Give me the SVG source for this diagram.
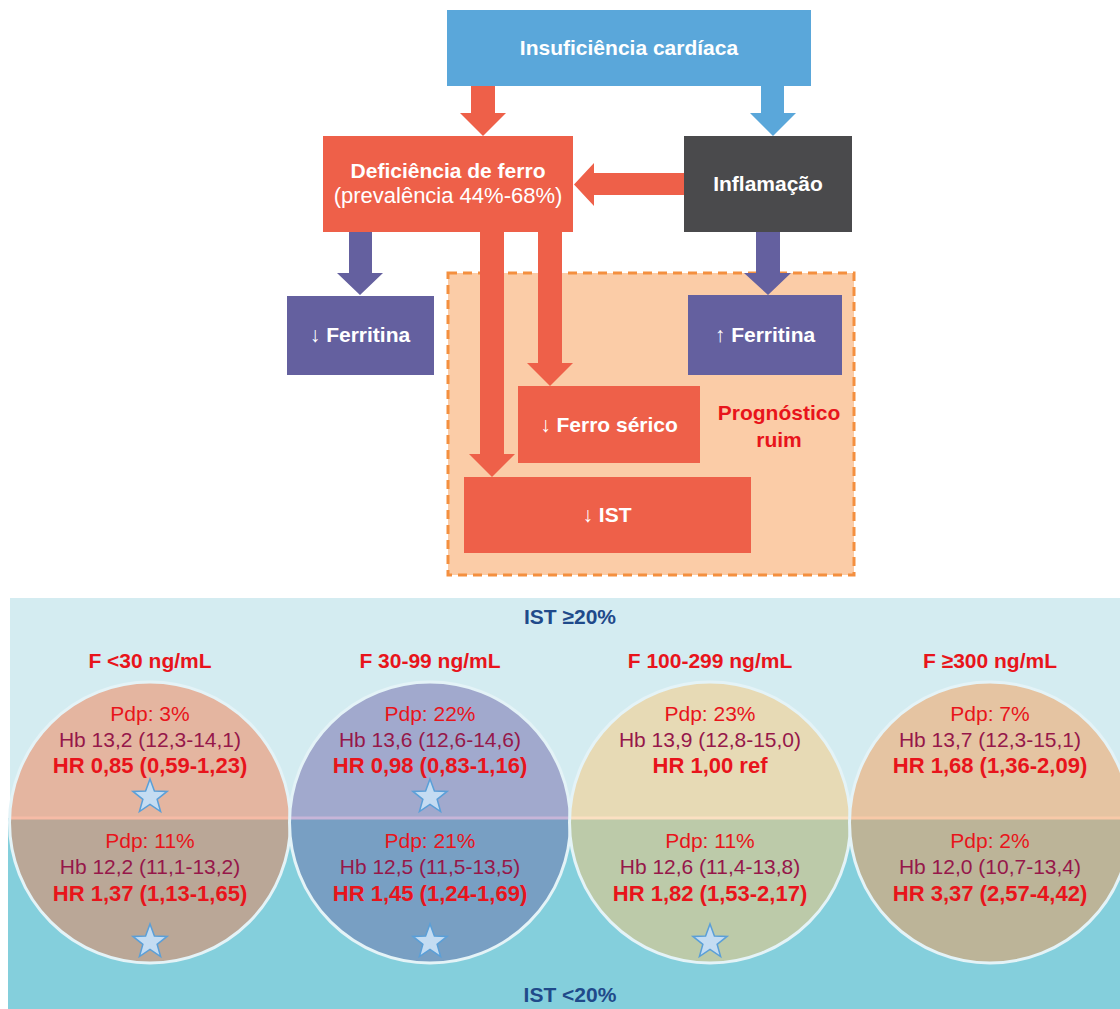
<svg xmlns="http://www.w3.org/2000/svg" width="1120" height="1009" viewBox="0 0 1120 1009">
<style>
text{font-family:"Liberation Sans",Arial,sans-serif;text-anchor:middle}
.wb{fill:#fff;font-weight:bold;font-size:21px}
.wr{fill:#fff;font-size:22px}
.red{fill:#ee6049}
.blue{fill:#5aa7da}
.pur{fill:#64609f}
.dark{fill:#4a4a4c}
.rb{fill:#e8141b;font-weight:bold;font-size:21px}
.hr{fill:#e8141b;font-weight:bold;font-size:22px}
.rr{fill:#e8141b;font-size:21px}
.hb{fill:#96174a;font-size:21px}
.nav{fill:#1f4a8a;font-weight:bold;font-size:21px}
.ring{fill:none;stroke:#e4f3f7;stroke-width:3}
.star{fill:#c4dcf2;stroke:#5a9fd8;stroke-width:1.5}
</style>
<defs>
<polygon id="st" points="0,-18 4.41,-6.07 17.12,-5.56 7.13,2.32 10.58,14.56 0,7.5 -10.58,14.56 -7.13,2.32 -17.12,-5.56 -4.41,-6.07"/>
</defs>

<!-- background bands -->
<rect x="10" y="598" width="1110" height="220" fill="#d4ecf1"/>
<rect x="8" y="818" width="1112" height="191" fill="#84cfdc"/>

<!-- prognóstico region -->
<g id="prognostico">
<rect x="448" y="273" width="406" height="302" fill="#fbcca7" stroke="#f48f3f" stroke-width="3" stroke-dasharray="9,6"/>
<text class="rb" x="779" y="420">Prognóstico</text>
<text class="rb" x="779" y="447">ruim</text>
</g>

<g id="connectors">
<path class="red" d="M471,86H495V113H506L483,136L460,113H471Z"/>
<path class="blue" d="M761,86H784V113H796L773,136L750,113H761Z"/>
<path class="red" d="M684,173V195H594V206L574,184.5L594,163V173Z"/>
<path class="pur" d="M349,232H372V273H383L360,295L337,273H349Z"/>
<path class="pur" d="M756,232H780V273H791L768,295L744,273H756Z"/>
<path class="red" d="M480,232H504V454H515L492,477L469,454H480Z"/>
<path class="red" d="M538,232H562V363H573L550,386L527,363H538Z"/>
</g>

<g id="insuficiencia">
<rect class="blue" x="447" y="10" width="364" height="76"/>
<text class="wb" x="629" y="55" font-size="20">Insuficiência cardíaca</text>
</g>
<g id="deficiencia">
<rect class="red" x="323" y="136" width="250" height="96"/>
<text class="wb" x="448" y="178">Deficiência de ferro</text>
<text class="wr" x="448" y="203">(prevalência 44%-68%)</text>
</g>
<g id="inflamacao">
<rect class="dark" x="684" y="136" width="168" height="96"/>
<text class="wb" x="768" y="191">Inflamação</text>
</g>
<g id="ferritina-baixa">
<rect class="pur" x="287" y="296" width="147" height="79"/>
<text class="wb" x="360" y="342"><tspan font-weight="normal">↓</tspan> Ferritina</text>
</g>
<g id="ferritina-alta">
<rect class="pur" x="688" y="295" width="154" height="80"/>
<text class="wb" x="765" y="342"><tspan font-weight="normal">↑</tspan> Ferritina</text>
</g>
<g id="ferro-serico">
<rect class="red" x="518" y="386" width="182" height="77"/>
<text class="wb" x="609" y="432"><tspan font-weight="normal">↓</tspan> Ferro sérico</text>
</g>
<g id="ist">
<rect class="red" x="464" y="477" width="287" height="76"/>
<text class="wb" x="607" y="522"><tspan font-weight="normal">↓</tspan> IST</text>
</g>

<text class="nav" x="570" y="624">IST ≥20%</text>
<text class="nav" x="570" y="1002">IST &lt;20%</text>

<g id="c1">
<text class="rb" x="150" y="668">F &lt;30 ng/mL</text>
<circle cx="150" cy="822.5" r="140.5" fill="#e4b5a0"/>
<path d="M9.6,818A140.5,140.5 0 1 0 290.4,818Z" fill="#baa797"/>
<line x1="10" y1="818" x2="290" y2="818" stroke="#f6bba6" stroke-width="3"/>
<circle class="ring" cx="150" cy="822.5" r="140.5"/>
<text class="rr" x="150" y="721">Pdp: 3%</text>
<text class="hb" x="150" y="747">Hb 13,2 (12,3-14,1)</text>
<text class="hr" x="150" y="773">HR 0,85 (0,59-1,23)</text>
<use href="#st" class="star" x="150" y="797"/>
<text class="rr" x="150" y="848">Pdp: 11%</text>
<text class="hb" x="150" y="874">Hb 12,2 (11,1-13,2)</text>
<text class="hr" x="150" y="901">HR 1,37 (1,13-1,65)</text>
<use href="#st" class="star" x="150" y="942"/>
</g>
<g id="c2">
<text class="rb" x="430" y="668">F 30-99 ng/mL</text>
<circle cx="430" cy="822.5" r="140.5" fill="#a1a9cd"/>
<path d="M289.6,818A140.5,140.5 0 1 0 570.4,818Z" fill="#789fc3"/>
<line x1="290" y1="818" x2="570" y2="818" stroke="#c7b5d8" stroke-width="3"/>
<circle class="ring" cx="430" cy="822.5" r="140.5"/>
<text class="rr" x="430" y="721">Pdp: 22%</text>
<text class="hb" x="430" y="747">Hb 13,6 (12,6-14,6)</text>
<text class="hr" x="430" y="773">HR 0,98 (0,83-1,16)</text>
<use href="#st" class="star" x="430" y="797"/>
<text class="rr" x="430" y="848">Pdp: 21%</text>
<text class="hb" x="430" y="874">Hb 12,5 (11,5-13,5)</text>
<text class="hr" x="430" y="901">HR 1,45 (1,24-1,69)</text>
<use href="#st" class="star" x="430" y="942"/>
</g>
<g id="c3">
<text class="rb" x="710" y="668">F 100-299 ng/mL</text>
<circle cx="710" cy="822.5" r="140.5" fill="#e7dab5"/>
<path d="M569.6,818A140.5,140.5 0 1 0 850.4,818Z" fill="#bccaa9"/>
<line x1="570" y1="818" x2="850" y2="818" stroke="#fbe0c2" stroke-width="3"/>
<circle class="ring" cx="710" cy="822.5" r="140.5"/>
<text class="rr" x="710" y="721">Pdp: 23%</text>
<text class="hb" x="710" y="747">Hb 13,9 (12,8-15,0)</text>
<text class="hr" x="710" y="773">HR 1,00 ref</text>
<text class="rr" x="710" y="848">Pdp: 11%</text>
<text class="hb" x="710" y="874">Hb 12,6 (11,4-13,8)</text>
<text class="hr" x="710" y="901">HR 1,82 (1,53-2,17)</text>
<use href="#st" class="star" x="710" y="942"/>
</g>
<g id="c4">
<text class="rb" x="990" y="668">F ≥300 ng/mL</text>
<circle cx="990" cy="822.5" r="140.5" fill="#e5c4a2"/>
<path d="M849.6,818A140.5,140.5 0 1 0 1130.4,818Z" fill="#bcb498"/>
<line x1="850" y1="818" x2="1130" y2="818" stroke="#f8c9a8" stroke-width="3"/>
<circle class="ring" cx="990" cy="822.5" r="140.5"/>
<text class="rr" x="990" y="721">Pdp: 7%</text>
<text class="hb" x="990" y="747">Hb 13,7 (12,3-15,1)</text>
<text class="hr" x="990" y="773">HR 1,68 (1,36-2,09)</text>
<text class="rr" x="990" y="848">Pdp: 2%</text>
<text class="hb" x="990" y="874">Hb 12,0 (10,7-13,4)</text>
<text class="hr" x="990" y="901">HR 3,37 (2,57-4,42)</text>
</g>
</svg>
